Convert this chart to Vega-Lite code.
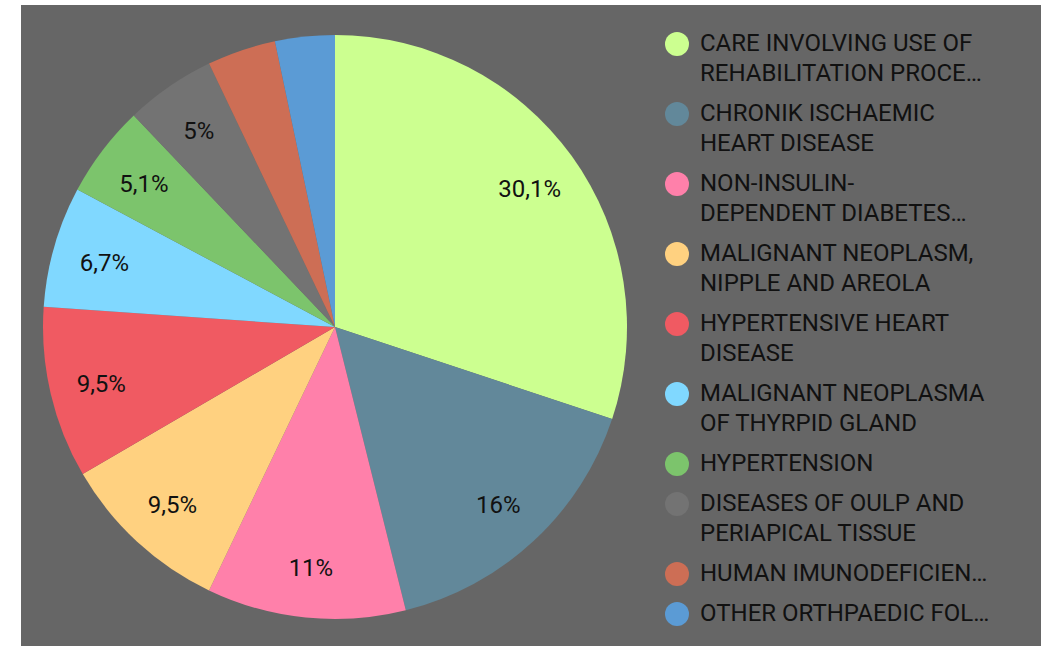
{
  "$schema": "https://vega.github.io/schema/vega-lite/v6.json",
  "width": 628,
  "height": 644,
  "padding": {"left": 21, "top": 5, "right": 0, "bottom": 0},
  "background": "white",
  "view": {"fill": "#666666", "stroke": null},
  "config": {"view": {"fill": "#666666", "stroke": null}, "font": "Roboto"},
  "data": {
    "values": [
      {"idx": 1, "cat": "CARE INVOLVING USE OF|REHABILITATION PROCE…", "value": 30.1, "label": "30,1%"},
      {"idx": 2, "cat": "CHRONIK ISCHAEMIC|HEART DISEASE", "value": 16, "label": "16%"},
      {"idx": 3, "cat": "NON-INSULIN-|DEPENDENT DIABETES…", "value": 11, "label": "11%"},
      {"idx": 4, "cat": "MALIGNANT NEOPLASM,|NIPPLE AND AREOLA", "value": 9.5, "label": "9,5%"},
      {"idx": 5, "cat": "HYPERTENSIVE HEART|DISEASE", "value": 9.5, "label": "9,5%"},
      {"idx": 6, "cat": "MALIGNANT NEOPLASMA|OF THYRPID GLAND", "value": 6.7, "label": "6,7%"},
      {"idx": 7, "cat": "HYPERTENSION", "value": 5.1, "label": "5,1%"},
      {"idx": 8, "cat": "DISEASES OF OULP AND|PERIAPICAL TISSUE", "value": 5, "label": "5%"},
      {"idx": 9, "cat": "HUMAN IMUNODEFICIEN…", "value": 3.8, "label": ""},
      {"idx": 10, "cat": "OTHER ORTHPAEDIC FOL…", "value": 3.3, "label": ""}
    ]
  },
  "encoding": {
    "theta": {"field": "value", "type": "quantitative", "stack": true},
    "order": {"field": "idx", "type": "quantitative"}
  },
  "layer": [
    {
      "mark": {"type": "arc", "outerRadius": 292},
      "encoding": {
        "color": {
          "field": "cat",
          "type": "nominal",
          "sort": null,
          "scale": {
            "domain": [
              "CARE INVOLVING USE OF|REHABILITATION PROCE…",
              "CHRONIK ISCHAEMIC|HEART DISEASE",
              "NON-INSULIN-|DEPENDENT DIABETES…",
              "MALIGNANT NEOPLASM,|NIPPLE AND AREOLA",
              "HYPERTENSIVE HEART|DISEASE",
              "MALIGNANT NEOPLASMA|OF THYRPID GLAND",
              "HYPERTENSION",
              "DISEASES OF OULP AND|PERIAPICAL TISSUE",
              "HUMAN IMUNODEFICIEN…",
              "OTHER ORTHPAEDIC FOL…"
            ],
            "range": ["#ccff90", "#62889a", "#ff80aa", "#ffd180", "#f05a62", "#80d8ff", "#7cc46c", "#737373", "#cd6e55", "#5b9bd5"]
          },
          "legend": {
            "title": null,
            "orient": "right",
            "offset": -11,
            "padding": 27,
            "fillColor": "#666666",
            "symbolType": "circle",
            "symbolSize": 576,
            "symbolStrokeWidth": 0,
            "symbolOpacity": 1,
            "labelFont": "Roboto",
            "labelFontSize": 24,
            "labelColor": "#111111",
            "labelLimit": 460,
            "labelOffset": 11,
            "rowPadding": 16,
            "labelExpr": "split(datum.label + '\u00a0\u00a0\u00a0\u00a0\u200b', '|')",
            "encode": {"labels": {"update": {"lineHeight": {"value": 30}}}}
          }
        }
      }
    },
    {
      "mark": {"type": "text", "radius": 240, "dy": 3, "fontSize": 24, "font": "Roboto", "fill": "#111111"},
      "encoding": {"text": {"field": "label"}}
    }
  ]
}
